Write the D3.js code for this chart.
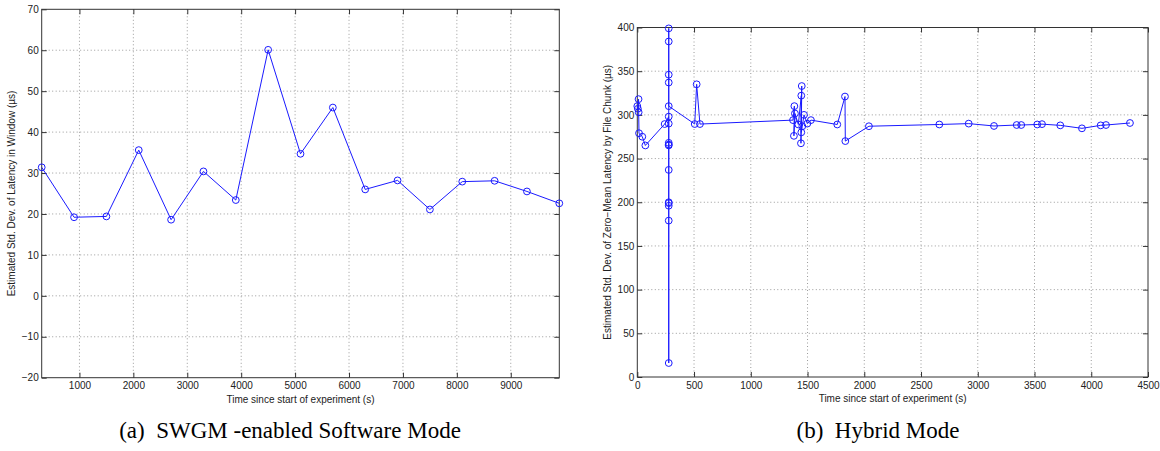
<!DOCTYPE html>
<html><head><meta charset="utf-8">
<script src="https://cdn.jsdelivr.net/npm/d3@7"></script>
<style>
body{margin:0;background:#fff}
svg text{font-family:"Liberation Sans",Arial,Helvetica,sans-serif}
.cap{font-family:"Liberation Serif","Times New Roman",serif !important;white-space:pre}
</style>
</head><body>
<svg id="c" width="1160" height="451"></svg>
<script>
// ---- Panel (a) data ----
const timeA = [300,900,1500,2100,2700,3300,3900,4500,5100,5700,6300,6900,7500,8100,8700,9300,9900];
const stdA  = [31.4,19.2,19.4,35.6,18.6,30.4,23.4,60.1,34.7,46.0,26.0,28.2,21.1,27.9,28.1,25.5,22.6];
const xTicksA = [1000,2000,3000,4000,5000,6000,7000,8000,9000];
const yTicksA = [-20,-10,0,10,20,30,40,50,60,70];

// ---- Panel (b) data ----
const timeB = [0,5,11,12,15,44,71,241,
  277,277,277,277,277,277,277,277,277,277,277,277,277,277,277,277,
  506,523,552,
  1372,1384,1380,1389,1419,1445,1442,1449,1445,1454,1469,1498,1530,
  1762,1830,1833,2041,
  2661,2920,3143,3343,3383,3524,3566,3727,3918,4083,4130,4341];
const stdB  = [310,307,318,303,279,275,265,289.5,
  298,268,237,200,196,179,16,199,266,265,290,346,399,384,337,310,
  289.5,335,289.5,
  294,310,276,301.6,289,322,267.5,333,280,287,300,290,294,
  289,321,270,287,
  289,290,287.3,288.4,288.4,289,289.4,288,284.6,288,288.4,290.7];
const xTicksB = [0,500,1000,1500,2000,2500,3000,3500,4000,4500];
const yTicksB = [0,50,100,150,200,250,300,350,400];

const svg = d3.select("#c");

function panel(o){
  const g = svg.append("g");
  const x = d3.scaleLinear().domain(o.xd).range([o.x0,o.x1]);
  const y = d3.scaleLinear().domain(o.yd).range([o.y1,o.y0]);
  const W = o.x1-o.x0, H = o.y1-o.y0;
  // grid
  const grid = g.append("g").attr("stroke","#9a9a9a").attr("stroke-width",1).attr("stroke-dasharray","1,2.5");
  grid.selectAll("line.gx").data(o.xt.filter(t=>t>o.xd[0]&&t<o.xd[1])).join("line")
    .attr("x1",d=>x(d)).attr("x2",d=>x(d)).attr("y1",o.y0).attr("y2",o.y1);
  grid.selectAll("line.gy").data(o.yt.filter(t=>t>o.yd[0]&&t<o.yd[1])).join("line")
    .attr("class","gy").attr("y1",d=>y(d)).attr("y2",d=>y(d)).attr("x1",o.x0).attr("x2",o.x1);
  // axes
  const fmt = d => (d<0? "\u2212"+Math.abs(d) : String(d));
  const ax = d3.axisBottom(x).tickValues(o.xt).tickSize(-5).tickPadding(4.5).tickFormat(fmt);
  const axT = d3.axisTop(x).tickValues(o.xt).tickSize(-5).tickFormat("");
  const ay = d3.axisLeft(y).tickValues(o.yt).tickSize(-5).tickPadding(3).tickFormat(fmt);
  const ayR = d3.axisRight(y).tickValues(o.yt).tickSize(-5).tickFormat("");
  const style = s => { s.select(".domain").remove(); s.selectAll("line").attr("stroke","#333");
    s.selectAll("text").attr("fill","#222").attr("font-size","10px"); };
  g.append("g").attr("transform",`translate(0,${o.y1})`).call(ax).call(style);
  g.append("g").attr("transform",`translate(0,${o.y0})`).call(axT).call(style);
  g.append("g").attr("transform",`translate(${o.x0},0)`).call(ay).call(style);
  g.append("g").attr("transform",`translate(${o.x1},0)`).call(ayR).call(style);
  g.append("rect").attr("x",o.x0).attr("y",o.y0).attr("width",W).attr("height",H)
    .attr("fill","none").attr("stroke","#333").attr("stroke-width",1);
  // line + markers
  const pts = o.xs.map((v,i)=>[v,o.ys[i]]);
  g.append("path").datum(pts).attr("fill","none").attr("stroke","#1a1aff").attr("stroke-width",1)
    .attr("d", d3.line().x(d=>x(d[0])).y(d=>y(d[1])));
  g.selectAll("circle").data(pts).join("circle").attr("cx",d=>x(d[0])).attr("cy",d=>y(d[1]))
    .attr("r",3.4).attr("fill","none").attr("stroke","#1a1aff").attr("stroke-width",1);
  // titles
  g.append("text").attr("x",(o.x0+o.x1)/2).attr("y",o.xtY).attr("text-anchor","middle")
    .attr("font-size","10px").attr("fill","#222").text(o.xtitle);
  g.append("text").attr("transform",`translate(${o.ytX},${(o.y0+o.y1)/2}) rotate(-90)`)
    .attr("text-anchor","middle").attr("dy","0.35em").attr("font-size","10px").attr("fill","#222").text(o.ytitle);
  g.append("text").attr("class","cap").attr("x",o.capX).attr("y",438).attr("text-anchor","middle")
    .attr("font-size","23px").attr("fill","#000").text(o.cap);
}

panel({xd:[300,9900], yd:[-20,70], x0:41.7, x1:559.3, y0:9.3, y1:377.7,
  xt:xTicksA, yt:yTicksA, xs:timeA, ys:stdA, xtY:402.5, ytX:11,
  xtitle:"Time since start of experiment (s)",
  ytitle:"Estimated Std. Dev. of Latency in Window (\u00b5s)",
  cap:"(a)  SWGM -enabled Software Mode", capX:290});

panel({xd:[0,4500], yd:[0,400], x0:637.3, x1:1148, y0:27.5, y1:377,
  xt:xTicksB, yt:yTicksB, xs:timeB, ys:stdB, xtY:402, ytX:607,
  xtitle:"Time since start of experiment (s)",
  ytitle:"Estimated Std. Dev. of Zero\u2212Mean Latency by File Chunk (\u00b5s)",
  cap:"(b)  Hybrid Mode", capX:878});
</script>
</body></html>
